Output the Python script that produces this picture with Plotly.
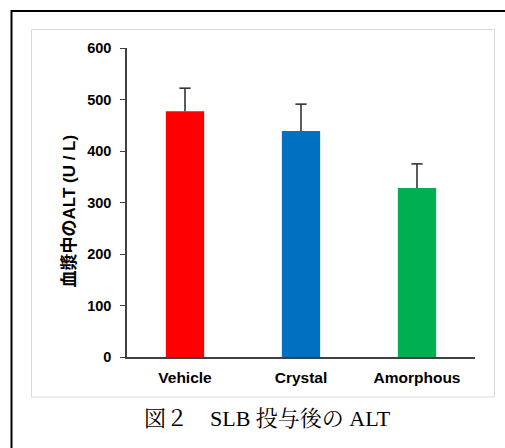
import plotly.graph_objects as go

categories = ["Vehicle", "Crystal", "Amorphous"]
alt_values = [477, 439, 328]
alt_errors = [45, 52, 47]
bar_colors = ["#FF0000", "#0070C0", "#00B050"]
y_ticks = [0, 100, 200, 300, 400, 500, 600]
y_title = "血漿中のALT (U / L)"
caption = "図２　SLB 投与後の ALT"

W, H = 505, 448
L, R, T, B = 127, 30, 48, 91
pw, ph = W - L - R, H - T - B

def px(x):
    return (x - L) / pw

def py(y):
    return (H - B - y) / ph

err_tops = [v + e for v, e in zip(alt_values, alt_errors)]

# whisker stems (bar top -> top of error), built from the data arrays
stem_x, stem_y = [], []
for c, v, t in zip(categories, alt_values, err_tops):
    stem_x += [c, c, None]
    stem_y += [v, t, None]

fig = go.Figure()
fig.add_trace(
    go.Bar(
        x=categories,
        y=alt_values,
        marker=dict(color=bar_colors, line=dict(width=0)),
        width=0.33,
        hoverinfo="skip",
    )
)
fig.add_trace(
    go.Scatter(
        x=stem_x, y=stem_y, mode="lines",
        line=dict(color="#262626", width=1.5),
        hoverinfo="skip",
    )
)
fig.add_trace(
    go.Scatter(
        x=categories, y=err_tops, mode="markers",
        marker=dict(symbol="line-ew", size=8, line=dict(color="#262626", width=1.5)),
        hoverinfo="skip",
    )
)

fig.update_layout(
    width=W,
    height=H,
    margin=dict(l=L, r=R, t=T, b=B, pad=0),
    paper_bgcolor="white",
    plot_bgcolor="white",
    showlegend=False,
    font=dict(family="Liberation Sans, Arial, Noto Sans CJK JP", color="#000000"),
    xaxis=dict(
        range=[-0.5, 2.5],
        showline=True,
        linecolor="#404040",
        linewidth=1.5,
        ticks="",
        showgrid=False,
        zeroline=False,
        tickfont=dict(size=15.5, family="Liberation Sans, Arial", weight="bold"),
        ticklabelstandoff=6,
        fixedrange=True,
    ),
    yaxis=dict(
        range=[0, 600],
        tickvals=y_ticks,
        showline=True,
        linecolor="#404040",
        linewidth=1.5,
        ticks="outside",
        ticklen=5,
        tickwidth=1.2,
        tickcolor="#404040",
        showgrid=False,
        zeroline=False,
        tickfont=dict(size=14.5, family="Liberation Sans, Arial", weight="bold"),
        ticklabelstandoff=6,
        fixedrange=True,
    ),
    shapes=[
        dict(
            type="rect", xref="paper", yref="paper",
            x0=px(31.5), x1=px(494.5), y0=py(397), y1=py(29.5),
            line=dict(color="#D9D9D9", width=1), fillcolor="rgba(0,0,0,0)", layer="below",
        ),
        dict(
            type="rect", xref="paper", yref="paper",
            x0=px(11.5), x1=px(520), y0=py(470), y1=py(11),
            line=dict(color="#000000", width=2), fillcolor="rgba(0,0,0,0)", layer="below",
        ),
    ],
    annotations=[
        dict(
            text=y_title,
            xref="paper", yref="paper",
            x=px(69), y=py(211.5),
            xanchor="center", yanchor="middle",
            textangle=-90,
            showarrow=False,
            font=dict(size=17, family="Liberation Sans, Arial, Noto Sans CJK JP", weight="bold", color="#000000"),
        ),
        dict(
            text=caption,
            xref="paper", yref="paper",
            x=px(267), y=py(418),
            xanchor="center", yanchor="middle",
            showarrow=False,
            font=dict(size=22, family="Liberation Serif, Noto Serif CJK JP, Noto Sans CJK JP, serif", color="#000000"),
        ),
    ],
)

fig.write_html(
    "out.html",
    config={"displayModeBar": False},
    post_script="document.body.style.margin='0';document.body.style.overflow='hidden';",
)
